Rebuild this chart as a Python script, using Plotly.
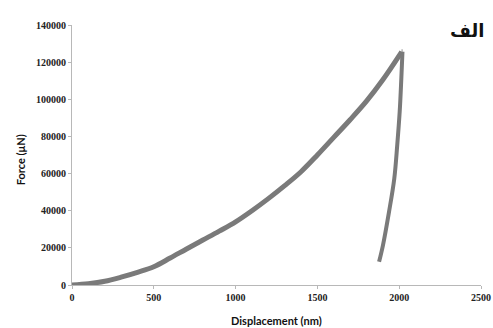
import plotly.graph_objects as go

# Loading curve (displacement nm, force uN)
load_disp = [0, 100, 200, 300, 400, 500, 600, 700, 800, 900, 1000, 1100, 1200, 1300,
             1400, 1500, 1600, 1700, 1800, 1900, 2000, 2015]
load_force = [0, 700, 2000, 4200, 6800, 9800, 14500, 19400, 24200, 29000, 34000, 40000,
              46500, 53500, 61000, 70000, 79500, 89000, 99000, 110500, 123500, 125600]

# Unloading curve
unload_disp = [2020, 2013, 2003, 1988, 1970, 1938, 1901, 1877]
unload_force = [125600, 111300, 93300, 75400, 57400, 39500, 21500, 12500]

x_ticks = [0, 500, 1000, 1500, 2000, 2500]
y_ticks = [0, 20000, 40000, 60000, 80000, 100000, 120000, 140000]

line_color = "rgb(122,122,122)"

fig = go.Figure()
fig.add_trace(go.Scatter(x=load_disp, y=load_force, mode="lines",
                         line=dict(color=line_color, width=5, shape="spline", smoothing=1),
                         showlegend=False, hoverinfo="skip"))
fig.add_trace(go.Scatter(x=[load_disp[-1], unload_disp[0]], y=[load_force[-1], unload_force[0]],
                         mode="lines", line=dict(color=line_color, width=5),
                         showlegend=False, hoverinfo="skip"))
fig.add_trace(go.Scatter(x=unload_disp, y=unload_force, mode="lines",
                         line=dict(color=line_color, width=4, shape="spline", smoothing=1),
                         showlegend=False, hoverinfo="skip"))

axis_common = dict(showgrid=False, zeroline=False, showline=True, linecolor="#b8b8b8",
                   linewidth=1, ticks="outside", ticklen=3, tickcolor="#b8b8b8",
                   automargin=False,
                   tickfont=dict(family="Liberation Serif", size=10, color="#222"))

fig.update_xaxes(range=[0, 2500], tickvals=x_ticks,
                 ticktext=["<b>%d</b>" % v for v in x_ticks], **axis_common)
fig.update_yaxes(range=[0, 140000], tickvals=y_ticks,
                 ticktext=["<b>%d</b>" % v for v in y_ticks], **axis_common)

fig.add_annotation(text="<b>Displacement (nm)</b>", xref="paper", yref="paper",
                   x=0.5, y=0, yshift=-35, xanchor="center", yanchor="middle",
                   showarrow=False, font=dict(family="Lato", size=11, color="#111"))
fig.add_annotation(text="<b>Force (μN)</b>", xref="paper", yref="paper",
                   x=0, xshift=-52, y=0.48, xanchor="center", yanchor="middle",
                   textangle=-90, showarrow=False,
                   font=dict(family="Lato", size=11, color="#111"))

fig.add_annotation(text="<b>الف</b>", xref="paper", yref="paper", x=1.012, y=0.98,
                   xanchor="right", yanchor="middle", showarrow=False,
                   font=dict(family="DejaVu Sans", size=18, color="#111"))

fig.update_layout(width=493, height=328, margin=dict(l=72, r=12, t=25, b=43),
                  paper_bgcolor="white", plot_bgcolor="white")

fig.write_html("out.html")
